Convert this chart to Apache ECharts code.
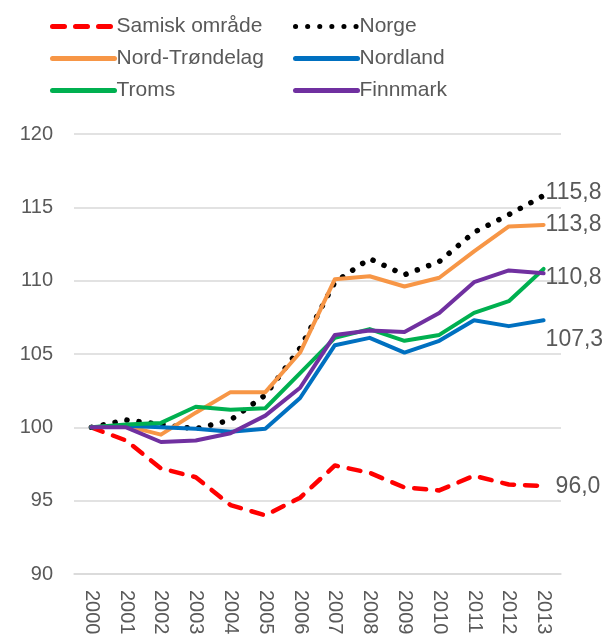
<!DOCTYPE html>
<html>
<head>
<meta charset="utf-8">
<script src="https://cdn.jsdelivr.net/npm/echarts@6/dist/echarts.min.js"></script>
<style>
html,body{margin:0;padding:0;background:#fff;}
#chart{width:606px;height:641px;}
</style>
</head>
<body>
<div id="chart"></div>
<script>
// data
var years = ['2000','2001','2002','2003','2004','2005','2006','2007','2008','2009','2010','2011','2012','2013'];
var samisk = [100, 99.1, 97.2, 96.6, 94.7, 94.0, 95.2, 97.4, 96.9, 95.9, 95.7, 96.7, 96.1, 96.0];
var norge = [100, 100.5, 100.2, 99.9, 100.5, 102.2, 105.4, 109.9, 111.5, 110.4, 111.3, 113.3, 114.5, 115.8];
var nordTrondelag = [100, 100.1, 99.5, 101.0, 102.4, 102.4, 105.1, 110.1, 110.3, 109.6, 110.2, 112.0, 113.7, 113.8];
var nordland = [100, 100.1, 100.0, 99.9, 99.7, 99.9, 102.0, 105.6, 106.1, 105.1, 105.9, 107.3, 106.9, 107.3];
var troms = [100, 100.2, 100.3, 101.4, 101.2, 101.3, 103.7, 106.1, 106.7, 105.9, 106.3, 107.8, 108.6, 110.8];
var finnmark = [100, 100.0, 99.0, 99.1, 99.6, 100.8, 102.7, 106.3, 106.6, 106.5, 107.8, 109.9, 110.7, 110.5];

var txt = '#595959';
var font = 'Liberation Sans, Arial, sans-serif';

function komma(p){
  return p.value.toFixed(1).replace('.', ',');
}

function linje(name, data, color, type, width, endOffset){
  var s = {
    name: name,
    type: 'line',
    data: data,
    symbol: 'none',
    animation: false,
    lineStyle: {color: color, width: width, type: type, cap: 'round', join: 'round'},
    itemStyle: {color: color}
  };
  if (endOffset) {
    s.endLabel = {
      show: true,
      formatter: komma,
      color: txt,
      fontSize: 23,
      fontFamily: font,
      distance: 2,
      offset: endOffset
    };
  }
  return s;
}

var mychart = echarts.init(document.getElementById('chart'));
var legendBase = {
  orient: 'vertical',
  top: 11,
  itemWidth: 62,
  itemHeight: 14,
  itemGap: 11,
  itemStyle: {opacity: 0},
  lineStyle: {width: 5, cap: 'round'},
  textStyle: {color: txt, fontSize: 21, fontFamily: font, padding: [0,0,0,-3]}
};
var option = {
  backgroundColor: '#fff',
  legend: [
    Object.assign({}, legendBase, {left: 45, data: ['Samisk område', 'Nord-Trøndelag', 'Troms']}),
    Object.assign({}, legendBase, {left: 288, data: ['Norge', 'Nordland', 'Finnmark']})
  ],
  grid: {left: 74, right: 45, top: 134, bottom: 67, containLabel: false},
  xAxis: {
    type: 'category',
    data: years,
    boundaryGap: true,
    axisLine: {show: true, lineStyle: {color: '#d9d9d9', width: 1.5}},
    axisTick: {show: false},
    axisLabel: {rotate: -90, color: txt, fontSize: 20, fontFamily: font, margin: 16, interval: 0}
  },
  yAxis: {
    type: 'value',
    min: 90,
    max: 120,
    interval: 5,
    axisLine: {show: false},
    axisTick: {show: false},
    splitLine: {lineStyle: {color: '#d9d9d9', width: 1.5}},
    axisLabel: {color: txt, fontSize: 20, fontFamily: font, margin: 21}
  },
  series: [
    linje('Samisk område', samisk, '#ff0000', [12, 11], 4.5, [10, 1]),
    linje('Norge', norge, '#000000', [0.1, 12], 5.5, [0, -3]),
    linje('Nord-Trøndelag', nordTrondelag, '#f79646', 'solid', 4, [0, 0]),
    linje('Nordland', nordland, '#0070c0', 'solid', 4, [0, 19]),
    linje('Troms', troms, '#00b050', 'solid', 4, [0, 9]),
    linje('Finnmark', finnmark, '#7030a0', 'solid', 4, null)
  ]
};
mychart.setOption(option);
</script>
</body>
</html>
